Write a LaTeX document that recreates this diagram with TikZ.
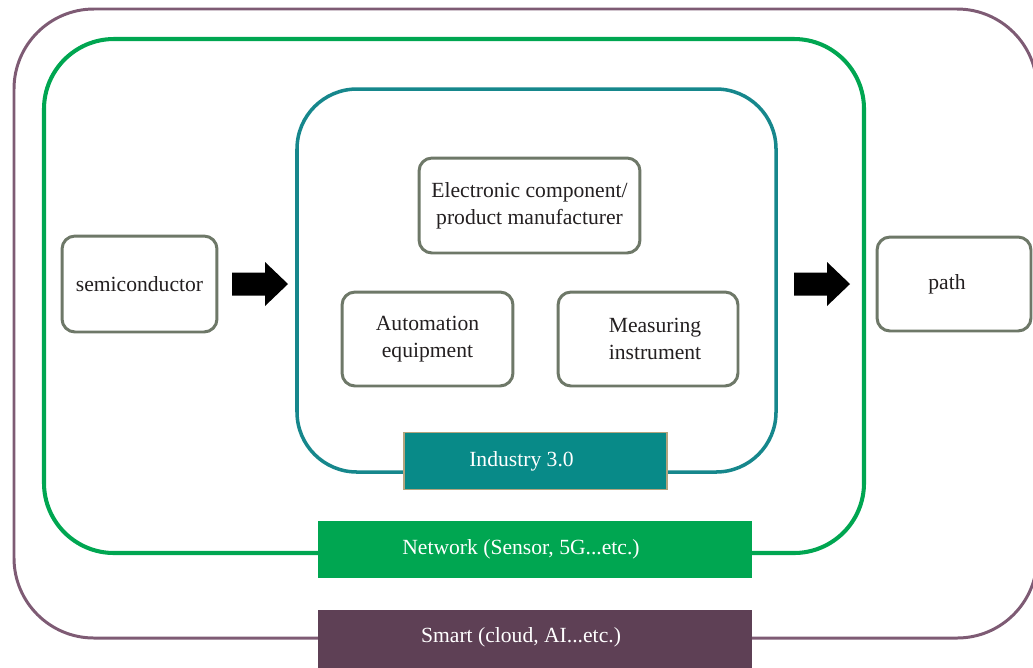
\documentclass[tikz,border=0pt]{standalone}
\usepackage{fontspec}
\setmainfont{Liberation Serif}
\usepackage{xcolor}
\usepackage{tikz}
\usetikzlibrary{arrows.meta,positioning}

\definecolor{smartc}{HTML}{5E4055}
\definecolor{smartline}{HTML}{7E5B74}
\definecolor{netc}{HTML}{00A651}
\definecolor{indc}{HTML}{088A88}
\definecolor{indline}{HTML}{16878C}
\definecolor{indedge}{HTML}{B3A47E}
\definecolor{boxline}{HTML}{6E7868}
\definecolor{txt}{HTML}{231F20}

\tikzset{
box/.style={draw=boxline,line width=1.7pt,rounded corners=0.26cm,fill=white,
  align=center,text=txt,font=\fontsize{12.3}{15.4}\selectfont},
bar/.style={inner sep=0pt,minimum height=1.15cm},
bartext/.style={text=white,font=\fontsize{12.3}{15.4}\selectfont,xshift=-0.28cm},
fatarrow/.pic={\fill[black](0,-11.5)--(33,-11.5)--(33,-22)--(56,0)--(33,22)--(33,11.5)--(0,11.5)--cycle;}
}

\begin{document}
\begin{tikzpicture}[x=0.02cm,y=-0.02cm]
\useasboundingbox(0,0)rectangle(1033,667);
\clip(0,0)rectangle(1033,667);
% layers
\draw[smartline,line width=1.7pt,rounded corners=1.6cm](14,9)rectangle(1037,638);
\draw[netc,line width=2.3pt,rounded corners=1.4cm](44,39)rectangle(864,553);
\draw[indline,line width=2pt,rounded corners=1.2cm](297,89)rectangle(776,472);
% labels of the layers
\node[bar,fill=indc,draw=indedge,line width=0.8pt,minimum width=5.26cm,
  label={[bartext]center:Industry 3.0}](ind)at(535.5,461){};
\node[bar,fill=netc,minimum width=8.68cm,
  label={[bartext]center:Network (Sensor, 5G...etc.)}](net)at(535,549.5){};
\node[bar,fill=smartc,minimum width=8.68cm,
  label={[bartext,yshift=0.04cm]center:Smart (cloud, AI...etc.)}](smart)at(535,639){};
% boxes
\node[box,minimum width=3.1cm,minimum height=1.92cm](semi)at(139.5,284){semiconductor};
\node[box,minimum width=3.08cm,minimum height=1.88cm](path)at(954,284){\hspace{-0.28cm}path};
\node[box,minimum width=4.42cm,minimum height=1.9cm](ecm)at(529.5,205.5){Electronic component/\\product manufacturer};
\node[box,minimum width=3.42cm,minimum height=1.88cm](auto)at(427.5,339){Automation\\equipment};
\node[box,minimum width=3.6cm,minimum height=1.88cm](meas)at(648,339){\hspace{0.28cm}Measuring\\\hspace{0.28cm}instrument};
% block arrows
\pic at(232,284){fatarrow};
\pic at(794,284){fatarrow};
\end{tikzpicture}
\end{document}
